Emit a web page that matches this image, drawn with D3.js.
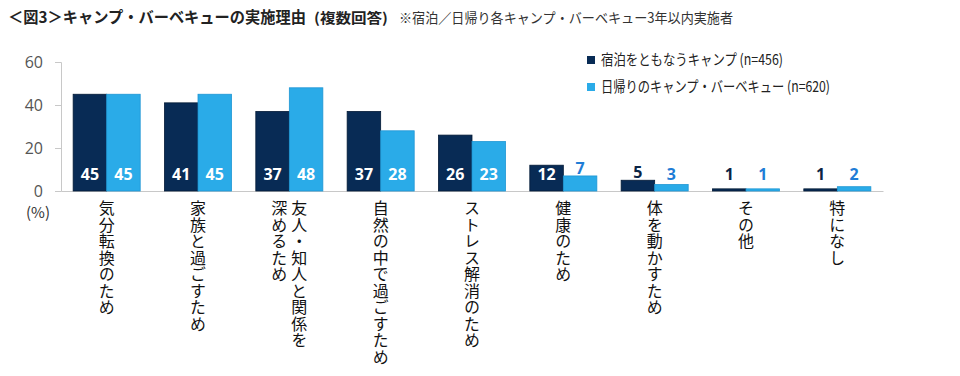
<!DOCTYPE html>
<html>
<head>
<meta charset="utf-8">
<script src="https://cdn.jsdelivr.net/npm/d3@7"></script>
<style>
  body { margin: 0; background: #fff; }
  svg { display: block; font-family: "Noto Sans CJK JP", "Noto Sans", sans-serif; }
</style>
</head>
<body>
<div id="chart"></div>
<script>
// data
var categories = [
  ["気分転換のため"],
  ["家族と過ごすため"],
  ["友人・知人と関係を", "深めるため"],
  ["自然の中で過ごすため"],
  ["ストレス解消のため"],
  ["健康のため"],
  ["体を動かすため"],
  ["その他"],
  ["特になし"]
];
var stayValues = [45, 41, 37, 37, 26, 12, 5, 1, 1];
var dayValues = [45, 45, 48, 28, 23, 7, 3, 1, 2];
var seriesNames = ["宿泊をともなうキャンプ (n=456)", "日帰りのキャンプ・バーベキュー (n=620)"];
var yTicks = [0, 20, 40, 60];

var width = 960, height = 376;
var colors = ["#082b55", "#2aabe8"];
var strokes = ["#031a36", "#1e96d4"];
var outColors = ["#0b2445", "#1f7dd6"];

var svg = d3.select("#chart")
  .append("svg")
    .attr("width", width)
    .attr("height", height);

// title
svg.append("text")
  .attr("x", 8).attr("y", 23)
  .attr("font-size", 15.5).attr("font-weight", "bold").attr("fill", "#222")
  .attr("textLength", 298).attr("lengthAdjust", "spacingAndGlyphs")
  .text("＜図3＞キャンプ・バーベキューの実施理由");
svg.append("text")
  .attr("x", 314).attr("y", 23)
  .attr("font-size", 14).attr("font-weight", "bold").attr("fill", "#222")
  .attr("textLength", 74).attr("lengthAdjust", "spacingAndGlyphs")
  .text("(複数回答)");
svg.append("text")
  .attr("x", 399).attr("y", 23)
  .attr("font-size", 14).attr("fill", "#333")
  .attr("textLength", 334).attr("lengthAdjust", "spacingAndGlyphs")
  .text("※宿泊／日帰り各キャンプ・バーベキュー3年以内実施者");

var x0 = d3.scaleBand()
  .domain(d3.range(categories.length))
  .range([61, 883])
  .paddingInner(0.266)
  .paddingOuter(0.133);

var x1 = d3.scaleBand()
  .domain([0, 1])
  .range([0, x0.bandwidth()]);

var y = d3.scaleLinear()
  .domain([0, 60])
  .range([191, 62]);

// y axis
var yAxis = svg.append("g")
  .attr("transform", "translate(61,0)")
  .call(d3.axisLeft(y).tickValues(yTicks).tickSize(6).tickPadding(12));
yAxis.select(".domain").attr("stroke", "#c8c8c8");
yAxis.selectAll(".tick line").attr("stroke", "#c8c8c8");
yAxis.selectAll(".tick text")
  .attr("font-size", 16).attr("fill", "#555")
  .attr("font-family", "'Open Sans', 'Noto Sans', sans-serif");

svg.append("text")
  .attr("x", 38).attr("y", 218)
  .attr("text-anchor", "middle")
  .attr("font-size", 15).attr("fill", "#333")
  .text("(%)");

// x axis line
var xAxis = svg.append("g")
  .attr("transform", "translate(0,191)")
  .call(d3.axisBottom(x0).tickSize(0).tickFormat(""));
xAxis.select(".domain").attr("stroke", "#c8c8c8");

// bars
var rows = categories.map(function(c, i) {
  return [stayValues[i], dayValues[i]];
});

var groups = svg.selectAll("g.grp")
  .data(rows)
  .enter()
  .append("g")
    .attr("class", "grp")
    .attr("transform", function(d, i) { return "translate(" + x0(i) + ",0)"; });

groups.selectAll("rect")
  .data(function(d) { return d.map(function(v, s) { return {v: v, s: s}; }); })
  .enter()
  .append("rect")
    .attr("x", function(d) { return x1(d.s); })
    .attr("width", x1.bandwidth())
    .attr("y", function(d) { return y(d.v); })
    .attr("height", function(d) { return y(0) - y(d.v); })
    .attr("fill", function(d) { return colors[d.s]; })
    .attr("stroke", function(d) { return strokes[d.s]; })
    .attr("stroke-width", 0.8);

// labels sit inside tall bars, above short ones
groups.selectAll("text.val")
  .data(function(d) { return d.map(function(v, s) { return {v: v, s: s}; }); })
  .enter()
  .append("text")
    .attr("class", "val")
    .attr("x", function(d) { return x1(d.s) + x1.bandwidth() / 2; })
    .attr("y", function(d) { return d.v >= 10 ? 174 : Math.min(174, y(d.v) - 8); })
    .attr("dy", "0.35em")
    .attr("text-anchor", "middle")
    .attr("font-size", 16).attr("font-weight", "bold")
    .attr("font-family", "'Open Sans', 'Noto Sans', sans-serif")
    .attr("fill", function(d) { return d.v >= 10 ? "#fff" : outColors[d.s]; })
    .text(function(d) { return d.v; });

// category labels (vertical)
categories.forEach(function(lines, i) {
  var cx = x0(i) + x0.bandwidth() / 2;
  var n = lines.length;
  lines.forEach(function(line, j) {
    svg.append("text")
      .attr("x", cx + ((n - 1) / 2 - j) * 20)
      .attr("y", 200)
      .attr("font-size", 16)
      .attr("fill", "#111")
      .style("writing-mode", "vertical-rl")
      .style("letter-spacing", "0.5px")
      .text(line);
  });
});

// legend
var legend = svg.append("g");
seriesNames.forEach(function(name, i) {
  legend.append("rect")
    .attr("x", 587).attr("y", 56 + i * 27)
    .attr("width", 8).attr("height", 8)
    .attr("fill", colors[i]);
  legend.append("text")
    .attr("x", 601).attr("y", 60 + i * 27)
    .attr("dy", "0.35em")
    .attr("font-size", 15).attr("fill", "#222")
    .attr("textLength", i === 0 ? 182 : 229)
    .attr("lengthAdjust", "spacingAndGlyphs")
    .text(name);
});
</script>
</body>
</html>
